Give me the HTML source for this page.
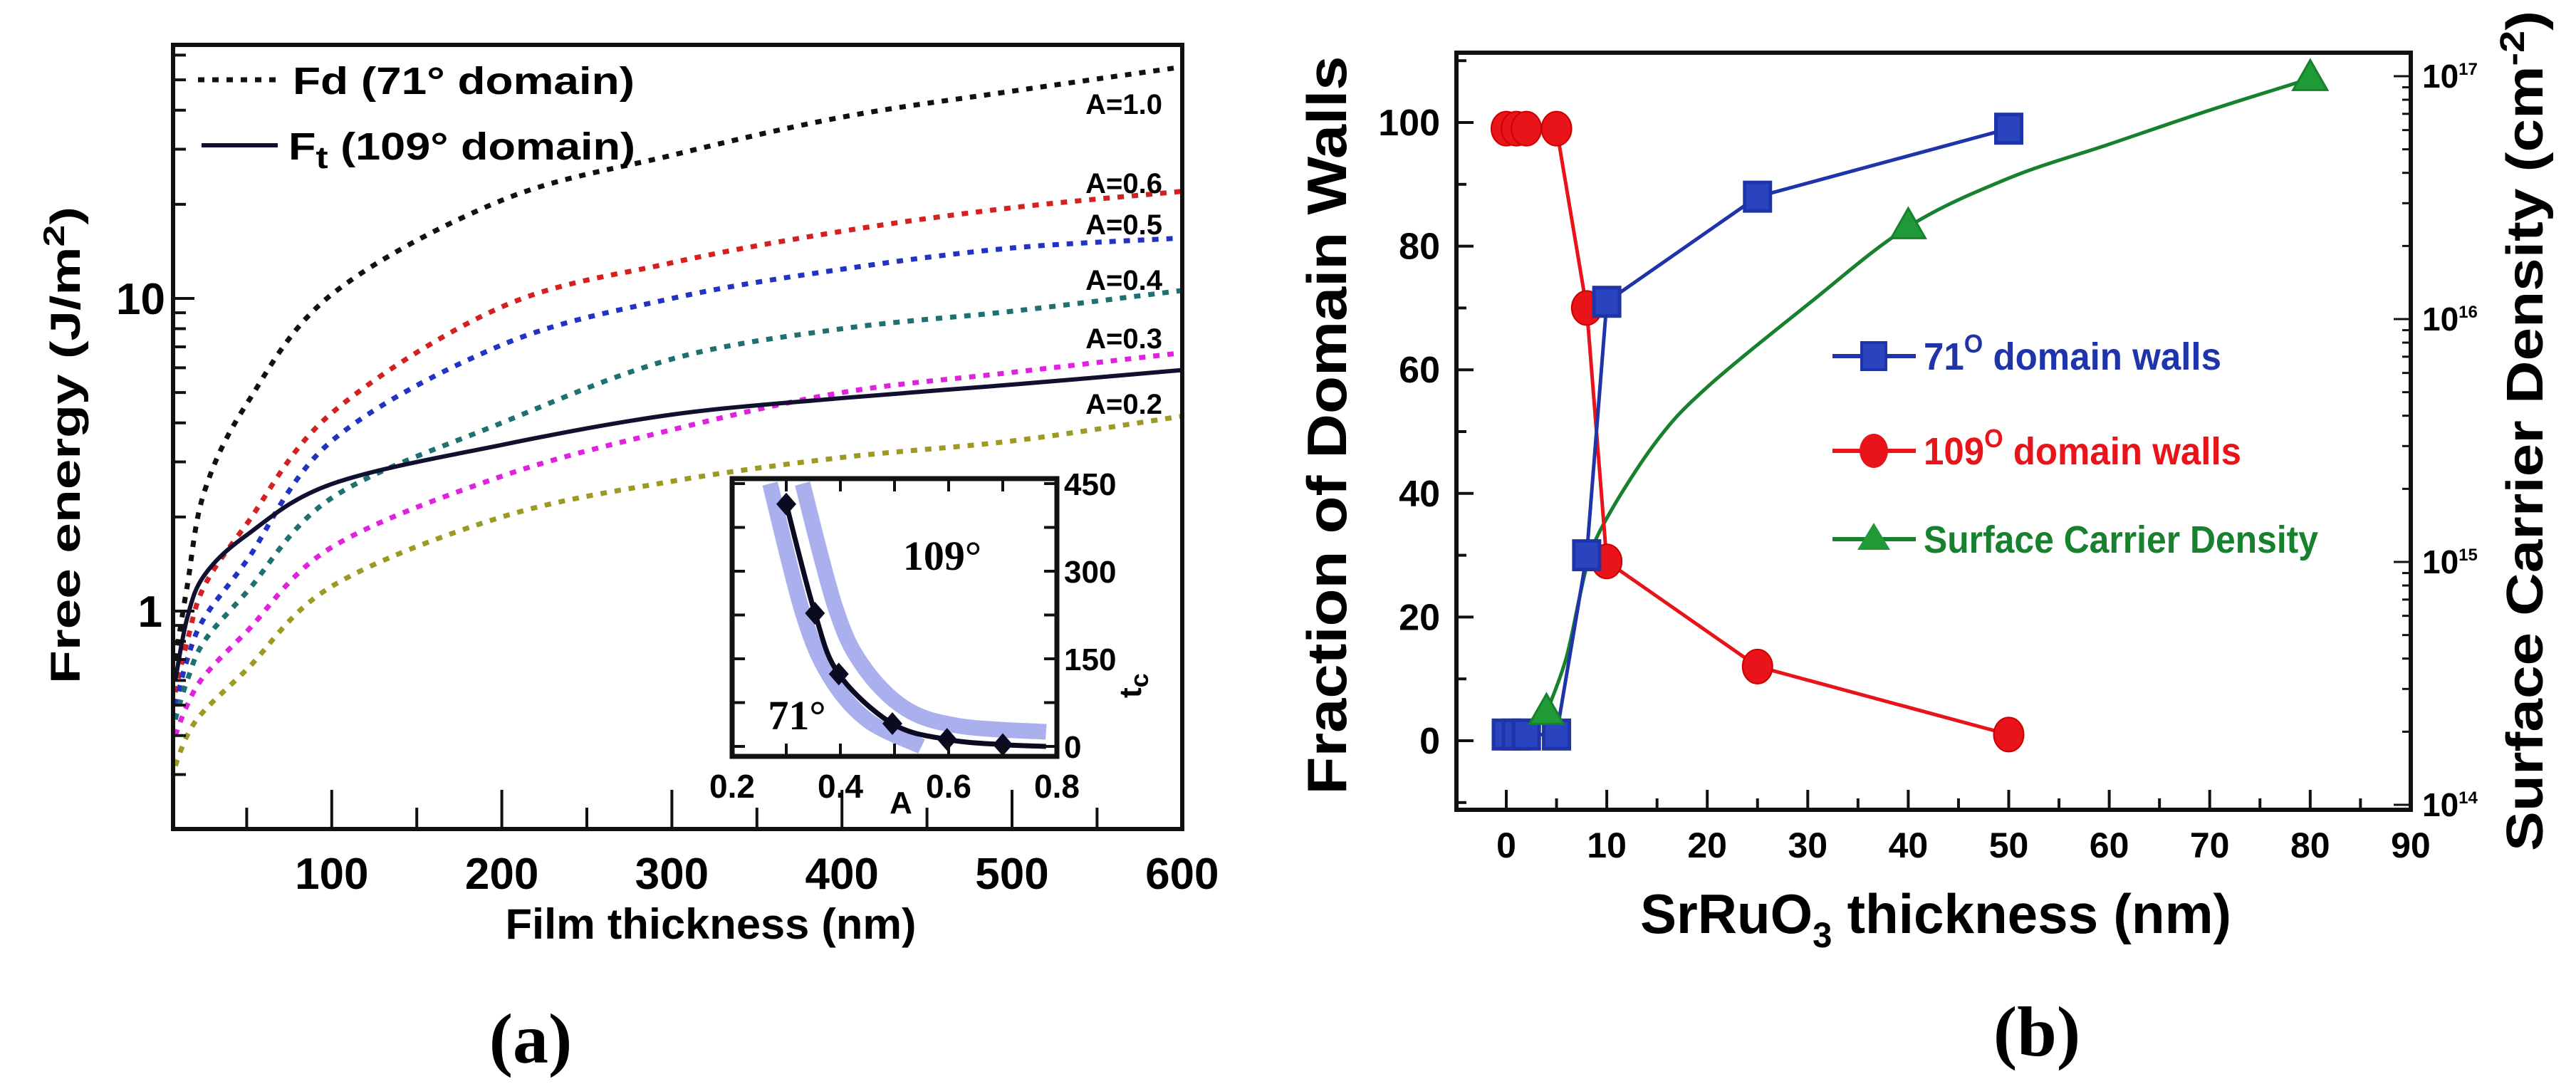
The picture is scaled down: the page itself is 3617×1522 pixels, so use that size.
<!DOCTYPE html>
<html><head><meta charset="utf-8">
<style>
html,body{margin:0;padding:0;background:#fff;}
svg{display:block;}
text{font-family:"Liberation Sans",sans-serif;font-weight:bold;}
.serif{font-family:"Liberation Serif",serif;}
</style></head>
<body>
<svg id="fig" width="3617" height="1522" viewBox="0 0 3617 1522" xmlns="http://www.w3.org/2000/svg">
<rect x="0" y="0" width="3617" height="1522" fill="#fff"/>
<g id="pa"></g>
<g id="pb"></g>
</svg>
<script>
// ---------- Panel (a) data ----------
const thicknessA = [8,15,25,50,100,200,300,400,500,600];
const fdA10 = [0.7,1.2,2.4,4.6,10.3,20.6,28.7,38,46,55];
const fdA06 = [0.55,0.8,1.2,1.9,4.3,9.4,13,16.4,19.5,22];
const fdA05 = [0.5,0.7,0.95,1.45,3.5,7.1,10,12.4,14.5,15.6];
const fdA04 = [0.45,0.6,0.8,1.15,2.3,4.0,6.4,8.0,9.1,10.6];
const fdA03 = [0.4,0.5,0.62,0.86,1.6,2.7,3.8,5.0,5.8,6.7];
const fdA02 = [0.32,0.4,0.48,0.65,1.2,2.0,2.6,3.1,3.5,4.2];
const ft109 = [0.6,0.95,1.3,1.75,2.55,3.4,4.25,4.8,5.3,5.9];
const xTicksA = [100,200,300,400,500,600];
const yTicksA = [1,10];
const aLabels = ["A=1.0","A=0.6","A=0.5","A=0.4","A=0.3","A=0.2"];
// inset
const insetA = [0.30,0.353,0.397,0.496,0.597,0.70,0.78];
const insetTc = [415,228,124,39,12,3,0];
const bandLowA = [0.27,0.33,0.38,0.45,0.55];
const bandLowT = [450,230,120,45,0];
const bandHighA = [0.33,0.39,0.44,0.52,0.62,0.78];
const bandHighT = [450,240,140,65,35,25];
const insetXTicks = [0.2,0.4,0.6,0.8];
const insetYTicks = [0,150,300,450];
// ---------- Panel (b) data ----------
const srThick71 = [0,1,2,5,8,10,25,50];
const walls71 = [1,1,1,1,30,71,88,99];
const srThick109 = [0,1,2,5,8,10,25,50];
const walls109 = [99,99,99,99,70,29,12,1];
const srThickN = [4,40,80];
const carrierLog = [14.38,16.38,16.99];
const carrierFitX = [4,6,8,10,15,20,30,40,50,60,70,80];
const carrierFitLog = [14.38,14.61,14.98,15.18,15.5,15.72,16.06,16.38,16.58,16.72,16.86,16.99];
const xTicksB = [0,10,20,30,40,50,60,70,80,90];
const yTicksB = [0,20,40,60,80,100];
const rTicksB = [14,15,16,17];

const NS="http://www.w3.org/2000/svg";
function mk(parent,tag,attrs,txt){const e=document.createElementNS(NS,tag);for(const k in attrs)e.setAttribute(k,attrs[k]);if(txt!==undefined)e.textContent=txt;parent.appendChild(e);return e;}
function smooth(pts){let d="M"+pts[0][0]+","+pts[0][1];for(let i=0;i<pts.length-1;i++){const p0=pts[Math.max(0,i-1)],p1=pts[i],p2=pts[i+1],p3=pts[Math.min(pts.length-1,i+2)];const c1x=p1[0]+(p2[0]-p0[0])/6,c1y=p1[1]+(p2[1]-p0[1])/6,c2x=p2[0]-(p3[0]-p1[0])/6,c2y=p2[1]-(p3[1]-p1[1])/6;d+=" C"+c1x+","+c1y+" "+c2x+","+c2y+" "+p2[0]+","+p2[1];}return d;}

// ---------- Panel (a) ----------
const pa=document.getElementById('pa');
const xa=v=>227+v*2.388, ya=v=>858-Math.log10(v)*439;
const AL=243,AR=1660,AT=63,AB=1164;
let clipA=mk(pa,'clipPath',{id:'ca'});mk(clipA,'rect',{x:AL,y:AT,width:AR-AL,height:AB-AT});
const seriesA=[[fdA10,'#111'],[fdA06,'#d42020'],[fdA05,'#2233c4'],[fdA04,'#1f7070'],[fdA03,'#e021e0'],[fdA02,'#9c9a22']];
const namesA=['curve-a10','curve-a06','curve-a05','curve-a04','curve-a03','curve-a02'];
seriesA.forEach((s,i)=>{const p=mk(pa,'path',{d:smooth(thicknessA.map((x,j)=>[xa(x),ya(s[0][j])])),fill:'none',stroke:s[1],'stroke-width':7,'stroke-dasharray':'9 11','clip-path':'url(#ca)'});

});
let ftp=mk(pa,'path',{d:smooth(thicknessA.map((x,j)=>[xa(x),ya(ft109[j])])),fill:'none',stroke:'#101030','stroke-width':6,'clip-path':'url(#ca)'});


let fa=mk(pa,'rect',{x:AL,y:AT,width:AR-AL,height:AB-AT,fill:'none',stroke:'#111','stroke-width':6});


for(let v=50;v<=600;v+=50){const big=v%100===0;mk(pa,'line',{x1:xa(v),x2:xa(v),y1:AB,y2:AB-(big?55:30),stroke:'#111','stroke-width':4});}
xTicksA.forEach(v=>{const t=mk(pa,'text',{x:xa(v),y:1248,'font-size':62,'text-anchor':'middle'},String(v));

});
[0.2,0.3,0.4,0.5,0.6,0.7,0.8,0.9,1,2,3,4,5,6,7,8,9,10,20,30,40,50,60].forEach(v=>{const big=(v===1||v===10);mk(pa,'line',{x1:AL,x2:AL+(big?30:18),y1:ya(v),y2:ya(v),stroke:'#111','stroke-width':4});});
yTicksA.forEach(v=>{const t=mk(pa,'text',{x:v===1?228:232,y:ya(v)+22,'font-size':62,'text-anchor':'end'},String(v));

});
let xtA=mk(pa,'text',{x:998,y:1318,'font-size':60,'text-anchor':'middle',textLength:577,lengthAdjust:'spacingAndGlyphs'},'Film thickness (nm)');


let ytA=mk(pa,'text',{x:0,y:0,'font-size':58,'text-anchor':'middle',transform:'translate(112,625) rotate(-90)',textLength:670,lengthAdjust:'spacingAndGlyphs'});
ytA.innerHTML='Free energy (J/m<tspan dy="-22" font-size="42">2</tspan><tspan dy="22">)</tspan>';


const aLabY=[146,257,315,393,475,567];
aLabels.forEach((s,i)=>{const t=mk(pa,'text',{x:1632,y:aLabY[i]+14,'font-size':40,'text-anchor':'end'},s);

});
let lg1=mk(pa,'line',{x1:278,x2:395,y1:112,y2:112,stroke:'#111','stroke-width':7,'stroke-dasharray':'9 11'});


let lt1=mk(pa,'text',{x:411,y:132,'font-size':54,textLength:480,lengthAdjust:'spacingAndGlyphs'},'Fd (71° domain)');


let lg2=mk(pa,'line',{x1:283,x2:390,y1:204,y2:204,stroke:'#101030','stroke-width':6});


let lt2=mk(pa,'text',{x:405,y:224,'font-size':54,textLength:487,lengthAdjust:'spacingAndGlyphs'});
lt2.innerHTML='F<tspan dy="12" font-size="44">t</tspan><tspan dy="-12"> (109° domain)</tspan>';


// inset
const IL=1028,IR=1484,IT=672,IB=1062;
const xi=a=>IL+(a-0.2)*760, yi=t=>1048-t*0.82;
let ins=mk(pa,'g',{});


mk(ins,'rect',{x:IL,y:IT,width:IR-IL,height:IB-IT,fill:'#fff',stroke:'none'});
let clipI=mk(ins,'clipPath',{id:'ci'});mk(clipI,'rect',{x:IL,y:IT,width:IR-IL,height:IB-IT});
let b1=mk(ins,'path',{d:smooth(bandLowA.map((a,j)=>[xi(a),yi(bandLowT[j])])),fill:'none',stroke:'#aab0ee','stroke-width':22,'clip-path':'url(#ci)'});


let b2=mk(ins,'path',{d:smooth(bandHighA.map((a,j)=>[xi(a),yi(bandHighT[j])])),fill:'none',stroke:'#aab0ee','stroke-width':22,'clip-path':'url(#ci)'});


let il=mk(ins,'path',{d:smooth(insetA.map((a,j)=>[xi(a),yi(insetTc[j])])),fill:'none',stroke:'#0a0a20','stroke-width':7,'clip-path':'url(#ci)'});


insetA.slice(0,6).forEach((a,j)=>{const m=mk(ins,'path',{d:`M${xi(a)-14},${yi(insetTc[j])} L${xi(a)},${yi(insetTc[j])-16} L${xi(a)+14},${yi(insetTc[j])} L${xi(a)},${yi(insetTc[j])+16}Z`,fill:'#0a0a20'});

});
mk(ins,'rect',{x:IL,y:IT,width:IR-IL,height:IB-IT,fill:'none',stroke:'#111','stroke-width':7});
for(let a=0.2;a<=0.8001;a+=0.1){mk(ins,'line',{x1:xi(a),x2:xi(a),y1:IB,y2:IB-18,stroke:'#111','stroke-width':4});mk(ins,'line',{x1:xi(a),x2:xi(a),y1:IT,y2:IT+18,stroke:'#111','stroke-width':4});}
for(let t=0;t<=450;t+=75){mk(ins,'line',{x1:IL,x2:IL+18,y1:yi(t),y2:yi(t),stroke:'#111','stroke-width':4});mk(ins,'line',{x1:IR,x2:IR-18,y1:yi(t),y2:yi(t),stroke:'#111','stroke-width':4});}
insetXTicks.forEach(a=>{const t=mk(ins,'text',{x:xi(a),y:1120,'font-size':46,'text-anchor':'middle'},a.toFixed(1));

});
insetYTicks.forEach(v=>{const t=mk(ins,'text',{x:IR+10,y:yi(v)+16,'font-size':44},String(v));

});
let iax=mk(ins,'text',{x:1265,y:1142,'font-size':44,'text-anchor':'middle'},'A');


let iay=mk(ins,'text',{x:0,y:0,'font-size':44,transform:'translate(1602,980) rotate(-90)'});
iay.innerHTML='t<tspan dy="10" font-size="36">c</tspan>';


let r1=mk(ins,'text',{x:1323,y:800,'font-size':58,'text-anchor':'middle',class:'serif','font-weight':'normal'},'109°');


let r2=mk(ins,'text',{x:1119,y:1024,'font-size':58,'text-anchor':'middle',class:'serif','font-weight':'normal'},'71°');


let capA=mk(pa,'text',{x:745,y:1492,'font-size':100,'text-anchor':'middle',class:'serif','font-weight':'normal'});
capA.innerHTML='(<tspan font-weight="bold">a</tspan>)';



// ---------- Panel (b) ----------
const pb=document.getElementById('pb');
const BL=2045,BR=3385,BT=74,BB=1137;
const xb=v=>2115+v*14.11, yb=v=>1040-v*8.68, yr=l=>1130-(l-14)*341;
let fb=mk(pb,'rect',{x:BL,y:BT,width:BR-BL,height:BB-BT,fill:'none',stroke:'#111','stroke-width':6});


for(let v=0;v<=90;v+=5){mk(pb,'line',{x1:xb(v),x2:xb(v),y1:BB,y2:BB-(v%10===0?28:16),stroke:'#111','stroke-width':4});}
for(let v=-10;v<=110;v+=10){if(yb(v)<BT||yb(v)>BB)continue;mk(pb,'line',{x1:BL,x2:BL+(v%20===0?24:14),y1:yb(v),y2:yb(v),stroke:'#111','stroke-width':4});}
for(let d=14;d<=17;d++){for(let k=1;k<10;k++){const y=yr(d+Math.log10(k));if(y<BT)continue;mk(pb,'line',{x1:BR,x2:BR-(k===1?24:12),y1:y,y2:y,stroke:'#111','stroke-width':3});}}
xTicksB.forEach(v=>{const t=mk(pb,'text',{x:xb(v),y:1204,'font-size':50,'text-anchor':'middle'},String(v));

});
yTicksB.forEach(v=>{const t=mk(pb,'text',{x:2022,y:yb(v)+18,'font-size':52,'text-anchor':'end'},String(v));

});
rTicksB.forEach(l=>{const t=mk(pb,'text',{x:3401,y:yr(l)+16,'font-size':46});
t.innerHTML='10<tspan dy="-18" font-size="24">'+l+'</tspan>';

});
let xtB=mk(pb,'text',{x:2718,y:1310,'font-size':78,'text-anchor':'middle',textLength:830,lengthAdjust:'spacingAndGlyphs'});
xtB.innerHTML='SrRuO<tspan dy="20" font-size="50">3</tspan><tspan dy="-20"> thickness (nm)</tspan>';


let ytB=mk(pb,'text',{x:0,y:0,'font-size':78,'text-anchor':'middle',transform:'translate(1890,597) rotate(-90)',textLength:1037,lengthAdjust:'spacingAndGlyphs'},'Fraction of Domain Walls');


let rtB=mk(pb,'text',{x:0,y:0,'font-size':72,'text-anchor':'middle',transform:'translate(3570,605) rotate(-90)',textLength:1180,lengthAdjust:'spacingAndGlyphs'});
rtB.innerHTML='Surface Carrier Density (cm<tspan dy="-26" font-size="48">-2</tspan><tspan dy="26">)</tspan>';


const cBlue='#1f34a8',cRed='#e8141a',cGreen='#17812e';
let gl=mk(pb,'path',{d:smooth(carrierFitX.map((x,j)=>[xb(x),yr(carrierFitLog[j])])),fill:'none',stroke:cGreen,'stroke-width':5});


let rl=mk(pb,'polyline',{points:srThick109.map((x,j)=>xb(x)+','+yb(walls109[j])).join(' '),fill:'none',stroke:cRed,'stroke-width':5});


let bl=mk(pb,'polyline',{points:srThick71.map((x,j)=>xb(x)+','+yb(walls71[j])).join(' '),fill:'none',stroke:cBlue,'stroke-width':5});


srThick109.forEach((x,j)=>{const c=mk(pb,'ellipse',{cx:xb(x),cy:yb(walls109[j]),rx:21,ry:24,fill:cRed,stroke:'#c00','stroke-width':2});

});
srThick71.forEach((x,j)=>{const r=mk(pb,'rect',{x:xb(x)-18,y:yb(walls71[j])-20,width:36,height:40,fill:'#2a44c0',stroke:cBlue,'stroke-width':5});

});
srThickN.forEach((x,j)=>{const X=xb(x),Y=yr(carrierLog[j]);const t=mk(pb,'path',{d:`M${X-24},${Y+16} L${X},${Y-26} L${X+24},${Y+16}Z`,fill:'#1f9a36',stroke:cGreen,'stroke-width':3});

});
// legend
const lgY=[500,633,757],lgC=[cBlue,cRed,cGreen];
lgY.forEach((y,i)=>{mk(pb,'line',{x1:2573,x2:2690,y1:y,y2:y,stroke:lgC[i],'stroke-width':6});});
let lm1=mk(pb,'rect',{x:2614,y:481,width:34,height:38,fill:'#2a44c0',stroke:cBlue,'stroke-width':4});


let lm2=mk(pb,'ellipse',{cx:2631,cy:633,rx:20,ry:24,fill:cRed});


let lm3=mk(pb,'path',{d:'M2608,772 L2631,734 L2654,772Z',fill:'#1f9a36'});


let lx1=mk(pb,'text',{x:2701,y:519,'font-size':54,fill:cBlue,textLength:418,lengthAdjust:'spacingAndGlyphs'});
lx1.innerHTML='71<tspan dy="-24" font-size="36">O</tspan><tspan dy="24"> domain walls</tspan>';


let lx2=mk(pb,'text',{x:2701,y:652,'font-size':54,fill:cRed,textLength:446,lengthAdjust:'spacingAndGlyphs'});
lx2.innerHTML='109<tspan dy="-24" font-size="36">O</tspan><tspan dy="24"> domain walls</tspan>';


let lx3=mk(pb,'text',{x:2701,y:776,'font-size':54,fill:cGreen,textLength:554,lengthAdjust:'spacingAndGlyphs'},'Surface Carrier Density');


let capB=mk(pb,'text',{x:2860,y:1482,'font-size':100,'text-anchor':'middle',class:'serif','font-weight':'normal'});
capB.innerHTML='(<tspan font-weight="bold">b</tspan>)';


</script>
</body></html>
